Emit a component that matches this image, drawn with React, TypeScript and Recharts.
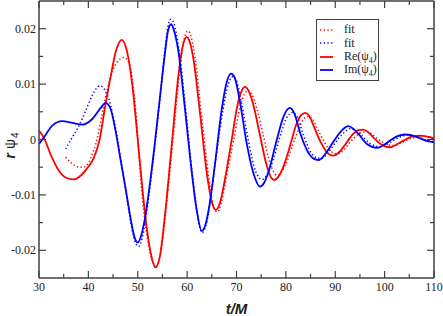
import { LineChart, Line, XAxis, YAxis, Legend } from "recharts";

// t/M, r*psi4 pairs
const rePsi4: [number, number][] = [
  [30, 0.0016], [31, 0.0003], [32.5, -0.003], [34, -0.0056], [35.5, -0.0069], [37.1, -0.0072],
  [38.6, -0.0064], [40.1, -0.0048], [41.1, -0.0033], [42.2, -0.0003], [43.5, 0.0065], [44.5, 0.0113],
  [45.6, 0.016], [46.75, 0.018], [47.8, 0.016], [48.9, 0.0098], [50.0, 0.0], [50.9, -0.0085],
  [51.9, -0.0165], [52.8, -0.0212], [53.6, -0.0231], [54.5, -0.021], [55.5, -0.0138], [56.9, -0.0008],
  [58.2, 0.0113], [59.1, 0.0168], [59.9, 0.0185], [60.6, 0.0174], [61.3, 0.0144], [62.6, 0.0048],
  [64, -0.0061], [65, -0.0113], [65.8, -0.0127], [66.6, -0.0116], [67.7, -0.007], [69, -0.0002],
  [70.2, 0.0062], [71, 0.0087], [71.7, 0.0095], [72.5, 0.0087], [73.4, 0.0063], [74.7, 0.001],
  [76, -0.0043], [76.9, -0.0067], [77.65, -0.0073], [78.5, -0.0067], [79.5, -0.0049], [80.8, -0.0013],
  [82.1, 0.0027], [83.1, 0.0044], [83.9, 0.0048], [84.7, 0.0043], [85.6, 0.0025], [87, -0.0004],
  [88.4, -0.0024], [89.6, -0.0029], [90.8, -0.0023], [92.1, -0.0008], [93.65, 0.001], [94.7, 0.0017],
  [95.7, 0.0018], [96.7, 0.0013], [97.7, 0.0004], [99, -0.0007], [100, -0.0012], [101.1, -0.0014],
  [102.4, -0.0009], [103.8, -0.0002], [105.5, 0.0005], [107.2, 0.0007], [108.7, 0.0005], [110, 0.0002],
];

const imPsi4: [number, number][] = [
  [30, -0.0008], [31, 0.0004], [32.7, 0.0025], [34.7, 0.0033], [36.75, 0.003], [38.8, 0.0027],
  [40.8, 0.0037], [42.5, 0.0057], [43.5, 0.0066], [44.5, 0.0055], [45.5, 0.0016], [46.55, -0.0038],
  [47.55, -0.0089], [48.6, -0.0145], [49.3, -0.0175], [50, -0.0186], [50.8, -0.017], [51.5, -0.014],
  [52.8, -0.0056], [54.2, 0.0052], [55.5, 0.0155], [56.1, 0.0195], [56.75, 0.0208], [57.4, 0.0195],
  [58.2, 0.0161], [59.6, 0.0052], [60.9, -0.0056], [61.95, -0.0128], [62.95, -0.0165], [63.8, -0.0151],
  [64.5, -0.012], [65.65, -0.0044], [67, 0.0054], [68, 0.0103], [68.9, 0.0119], [69.7, 0.011],
  [70.7, 0.0068], [72.05, -0.0006], [73.4, -0.006], [74.75, -0.0085], [75.6, -0.0078], [76.45, -0.0059],
  [78.15, -0.0001], [79.5, 0.0041], [80.85, 0.0057], [81.8, 0.0045], [82.85, 0.0013], [84.5, -0.0023],
  [85.7, -0.0035], [86.75, -0.0037], [87.8, -0.0028], [88.9, -0.0014], [91, 0.0013], [92.65, 0.0024],
  [93.7, 0.0019], [94.7, 0.001], [96.4, -0.0008], [98.5, -0.0015], [99.8, -0.001], [101.1, -0.0002],
  [102.6, 0.0006], [104.1, 0.0009], [105.7, 0.0007], [107.2, 0.0002], [108.7, -0.0003], [110, -0.0005],
];

const reFit: [number, number][] = [
  [35.4, -0.0032], [36.75, -0.0044], [38.1, -0.005], [39.1, -0.005], [40.1, -0.0041], [40.8, -0.0026],
  [41.5, -0.0008], [42.8, 0.0046], [44.2, 0.0104], [45.1, 0.0128], [45.85, 0.014], [47.2, 0.0148],
  [48, 0.0142], [48.55, 0.0128], [49.1, 0.0095], [49.6, 0.0052], [50.25, -0.0029], [51, -0.011],
  [52, -0.018], [52.9, -0.0218], [53.7, -0.0228], [54.6, -0.0207], [55.6, -0.0135], [57, -0.0012],
  [58.4, 0.0115], [59.3, 0.0178], [60.2, 0.0196], [60.9, 0.0182], [61.6, 0.0148], [62.9, 0.0045],
  [64.3, -0.0063], [65.3, -0.0118], [66.1, -0.0131], [66.9, -0.0115], [68, -0.0065], [69.4, -0.0002],
  [70.7, 0.0058], [71.6, 0.0082], [72.4, 0.0089], [73.2, 0.008], [74.1, 0.0057], [75.4, 0.0008],
  [76.7, -0.004], [77.5, -0.0058], [78.2, -0.0065], [79.1, -0.0059], [80.1, -0.0042], [81.4, -0.001],
  [82.8, 0.0024], [83.8, 0.0039], [84.6, 0.0042], [85.4, 0.0037], [86.3, 0.0021], [87.7, -0.0003],
  [89.1, -0.0021], [90.4, -0.0026], [91.6, -0.002], [92.9, -0.0006], [94.5, 0.0008], [95.5, 0.0013],
  [96.4, 0.0014], [97.4, 0.001], [98.5, 0.0002], [99.8, -0.0006], [100.8, -0.001], [101.9, -0.0011],
  [103.1, -0.0007], [104.5, -0.0001], [106.2, 0.0004], [108, 0.0006], [109.3, 0.0004], [110, 0.0003],
];

const imFit: [number, number][] = [
  [35.4, -0.0017], [36.75, 0.0004], [38.1, 0.0025], [39.45, 0.0052], [40.8, 0.008], [41.6, 0.0092],
  [42.4, 0.0097], [43.2, 0.0091], [44.2, 0.0072], [44.85, 0.0049], [45.8, 0.0005], [46.8, -0.005],
  [47.8, -0.0105], [48.8, -0.016], [49.6, -0.0188], [50.2, -0.0193], [50.9, -0.0178], [51.6, -0.0143],
  [52.9, -0.0055], [54.3, 0.0058], [55.5, 0.016], [56.1, 0.0203], [56.7, 0.0217], [57.3, 0.021],
  [58.3, 0.0165], [59.7, 0.0055], [61, -0.0058], [62, -0.013], [63, -0.0168], [63.9, -0.0152],
  [64.6, -0.0115], [65.8, -0.0036], [67.2, 0.005], [68.3, 0.0098], [69.3, 0.0114], [70.1, 0.0103],
  [71.1, 0.0062], [72.5, -0.0006], [73.9, -0.0058], [75.2, -0.0072], [76.1, -0.0065], [77, -0.0048],
  [78.7, 0.0002], [80.1, 0.0038], [81.4, 0.0049], [82.4, 0.0039], [83.5, 0.001], [85.1, -0.0024],
  [86.3, -0.0033], [87.4, -0.0034], [88.5, -0.0024], [89.6, -0.0011], [91.6, 0.0011], [93.2, 0.002],
  [94.2, 0.0016], [95.3, 0.0008], [97, -0.0007], [99.1, -0.0013], [100.4, -0.0009], [101.7, -0.0002],
  [103.2, 0.0005], [104.7, 0.0008], [106.3, 0.0006], [107.8, 0.0001], [109.3, -0.0003], [110, -0.0004],
];

const xTicks = [30, 35, 40, 45, 50, 55, 60, 65, 70, 75, 80, 85, 90, 95, 100, 105, 110];
const yTicks = [-0.02, -0.015, -0.01, -0.005, 0, 0.005, 0.01, 0.015, 0.02];

const RED = "#ff0000";
const BLUE = "#0000ff";
const FRAME = "#404040";
const DOTS = "1.3 2.4";
const SERIF = '"Liberation Serif", "DejaVu Serif", serif';
const SANS = '"Liberation Sans", Arial, sans-serif';

const toRows = (pts: [number, number][]) => pts.map(([t, v]) => ({ t, v }));

const isMajorX = (v: number) => v % 10 === 0;
const isMajorY = (v: number) => Math.round(v * 1000) % 10 === 0;

const BottomTick = (p: any) => {
  const v = p.payload.value;
  const major = isMajorX(v);
  return (
    <g>
      <line x1={p.x} x2={p.x} y1={p.y} y2={p.y - (major ? 7 : 4)} stroke={FRAME} strokeWidth={1.2} />
      {major && (
        <text x={p.x} y={p.y + 13} textAnchor="middle" fontFamily={SERIF} fontSize={12} fill="#222">
          {v}
        </text>
      )}
    </g>
  );
};

const TopTick = (p: any) => {
  const major = isMajorX(p.payload.value);
  return <line x1={p.x} x2={p.x} y1={p.y} y2={p.y + (major ? 7 : 4)} stroke={FRAME} strokeWidth={1.2} />;
};

const LeftTick = (p: any) => {
  const v = p.payload.value;
  const major = isMajorY(v);
  return (
    <g>
      <line x1={p.x} x2={p.x + (major ? 7 : 4)} y1={p.y} y2={p.y} stroke={FRAME} strokeWidth={1.2} />
      {major && (
        <text x={p.x - 3} y={p.y + 4} textAnchor="end" fontFamily={SERIF} fontSize={12} fill="#222">
          {v === 0 ? "0" : v.toFixed(2)}
        </text>
      )}
    </g>
  );
};

const RightTick = (p: any) => {
  const major = isMajorY(p.payload.value);
  return <line x1={p.x} x2={p.x - (major ? 7 : 4)} y1={p.y} y2={p.y} stroke={FRAME} strokeWidth={1.2} />;
};

const XTitle = (props: any) => {
  const { x, y, width } = props.viewBox;
  return (
    <text x={x + width / 2} y={y + 36} textAnchor="middle" fontFamily={SANS} fontSize={15} fontWeight="bold" fontStyle="italic" fill="#222">
      t/M
    </text>
  );
};

const YTitle = (props: any) => {
  const { y, height } = props.viewBox;
  const cx = 15;
  const cy = y + height / 2 + 6;
  return (
    <text x={cx} y={cy} transform={`rotate(-90 ${cx} ${cy})`} textAnchor="middle" fontFamily={SANS} fontSize={14} fill="#222">
      <tspan fontWeight="bold" fontStyle="italic">r</tspan>
      <tspan dx={4}>ψ</tspan>
      <tspan dx={1} dy={4} fontSize={10}>4</tspan>
    </text>
  );
};

const legendItems = [
  { label: "fit", color: RED, dotted: true },
  { label: "fit", color: BLUE, dotted: true },
  { label: "Re(ψ", color: RED, dotted: false },
  { label: "Im(ψ", color: BLUE, dotted: false },
];

const LegendBox = () => (
  <div
    style={{
      border: `1px solid ${FRAME}`,
      background: "#fff",
      padding: "3px 0 3px 3px",
      width: 58,
      fontFamily: SERIF,
      fontSize: 12,
      color: "#222",
    }}
  >
    {legendItems.map((it, i) => (
      <div key={i} style={{ display: "flex", alignItems: "center", height: 13.5 }}>
        <svg width={14} height={6}>
          <line
            x1={0}
            x2={13}
            y1={3}
            y2={3}
            stroke={it.color}
            strokeWidth={it.dotted ? 1.5 : 1.8}
            strokeDasharray={it.dotted ? DOTS : undefined}
          />
        </svg>
        <span style={{ marginLeft: 10, whiteSpace: "nowrap" }}>
          {it.dotted ? (
            it.label
          ) : (
            <>
              {it.label}
              <sub style={{ fontSize: 8 }}>4</sub>)
            </>
          )}
        </span>
      </div>
    ))}
  </div>
);

export default function App() {
  return (
    <div style={{ position: "absolute", left: 0, top: 0, background: "#fff" }}>
      <LineChart width={443} height={316} margin={{ top: 0, right: 0, bottom: 0, left: 0 }}>
        <XAxis
          dataKey="t"
          type="number"
          domain={[30, 110]}
          ticks={xTicks}
          allowDataOverflow
          height={38}
          axisLine={{ stroke: FRAME, strokeWidth: 1.5 }}
          tickLine={false}
          tickSize={0}
          tickMargin={0}
          tick={BottomTick}
          interval={0}
          label={XTitle}
        />
        <XAxis
          xAxisId="top"
          orientation="top"
          dataKey="t"
          type="number"
          domain={[30, 110]}
          ticks={xTicks}
          allowDataOverflow
          height={1}
          axisLine={{ stroke: FRAME, strokeWidth: 1.5 }}
          tickLine={false}
          tickSize={0}
          tickMargin={0}
          tick={TopTick}
          interval={0}
        />
        <YAxis
          type="number"
          domain={[-0.025, 0.025]}
          ticks={yTicks}
          allowDataOverflow
          width={39}
          axisLine={{ stroke: FRAME, strokeWidth: 1.5 }}
          tickLine={false}
          tickSize={0}
          tickMargin={0}
          tick={LeftTick}
          interval={0}
          label={YTitle}
        />
        <YAxis
          yAxisId="right"
          orientation="right"
          type="number"
          domain={[-0.025, 0.025]}
          ticks={yTicks}
          allowDataOverflow
          width={9}
          axisLine={{ stroke: FRAME, strokeWidth: 1.5 }}
          tickLine={false}
          tickSize={0}
          tickMargin={0}
          tick={RightTick}
          interval={0}
        />
        <Legend
          layout="vertical"
          align="center"
          verticalAlign="middle"
          content={LegendBox}
          wrapperStyle={{ left: 316, top: 19, width: 62, height: 62 }}
        />
        <Line data={toRows(reFit)} dataKey="v" type="monotone" stroke={RED} strokeWidth={1.5} strokeDasharray={DOTS} dot={false} isAnimationActive={false} />
        <Line data={toRows(imFit)} dataKey="v" type="monotone" stroke={BLUE} strokeWidth={1.5} strokeDasharray={DOTS} dot={false} isAnimationActive={false} />
        <Line data={toRows(rePsi4)} dataKey="v" type="monotone" stroke={RED} strokeWidth={1.8} dot={false} isAnimationActive={false} />
        <Line data={toRows(imPsi4)} dataKey="v" type="monotone" stroke={BLUE} strokeWidth={1.8} dot={false} isAnimationActive={false} />
      </LineChart>
    </div>
  );
}
